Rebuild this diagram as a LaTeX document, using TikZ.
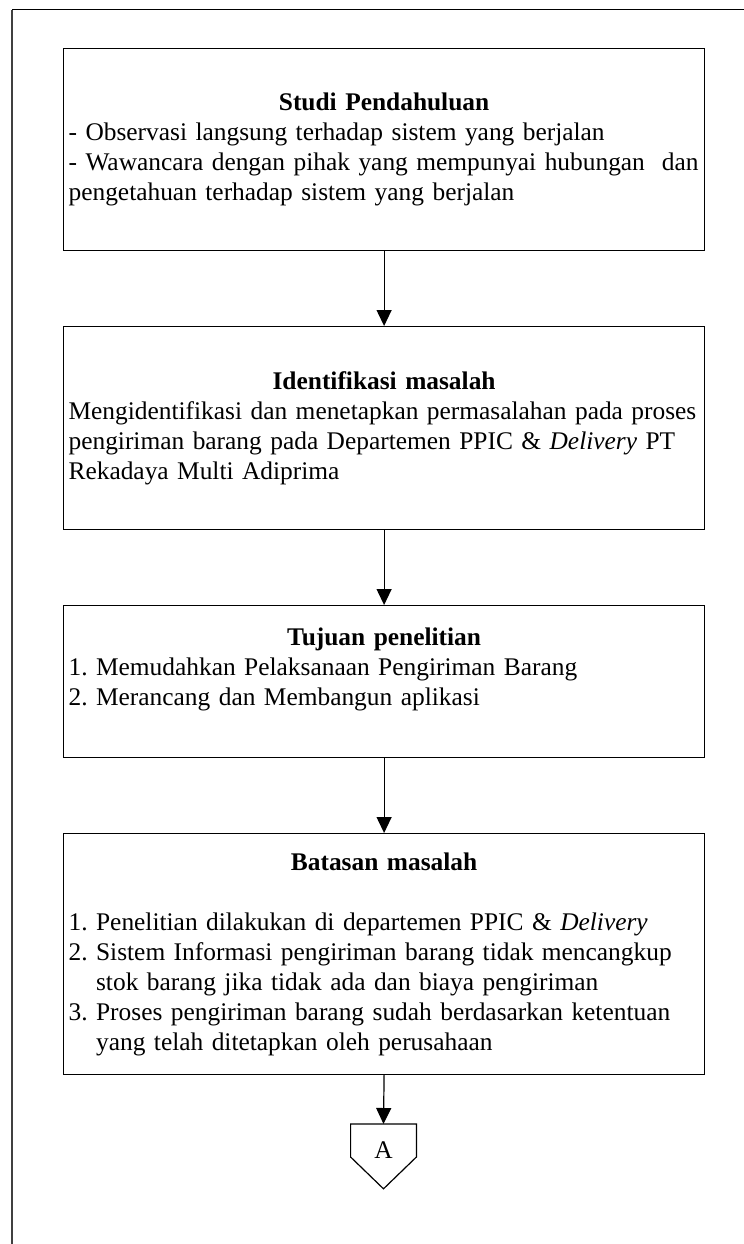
\documentclass[tikz,border=0pt]{standalone}
\usepackage{fontspec}
\setmainfont{Liberation Serif}
\usetikzlibrary{arrows.meta}

% numbered point with hanging indent (break lines with \newline)
\newcommand{\nomor}[1]{\par\setbox0=\hbox{#1\ }\hangindent=\wd0 \hangafter=1 \noindent\box0 }

\begin{document}
\begin{tikzpicture}[x=0.5pt,y=-0.5pt,
  kotak/.style={draw, line width=0.6pt, anchor=north west, text width=315.5pt,
    inner xsep=2.5pt, inner ysep=0pt, align=left,
    font=\fontsize{12.7}{15}\selectfont},
  panah/.style={-{Triangle[length=8pt,width=7.5pt]}, line width=0.6pt}]
  \useasboundingbox (0,0) rectangle (744,1244);
  % page frame
  \draw[line width=0.6pt] (12,9.5) -- (744,9.5);
  \draw[line width=1pt, black!75] (12,9.5) -- (12,1244);

  \node[kotak, minimum height=101.25pt] (studi) at (63,47.5) {%
    {\centering\textbf{Studi Pendahuluan}\par}
    - Observasi langsung terhadap sistem yang berjalan\\
    - Wawancara dengan pihak yang mempunyai hubungan\ \ dan\\
    pengetahuan terhadap sistem yang berjalan};

  \node[kotak, minimum height=101.5pt] (identifikasi) at (63,326) {%
    {\centering\textbf{Identifikasi masalah}\par}
    Mengidentifikasi dan menetapkan permasalahan pada proses\\
    pengiriman barang pada Departemen PPIC \& \textit{Delivery} PT\\
    Rekadaya Multi Adiprima};

  \node[kotak, minimum height=76pt] (tujuan) at (63,605) {%
    {\centering\textbf{Tujuan penelitian}\par}
    1.\ Memudahkan Pelaksanaan Pengiriman Barang\\
    2.\ Merancang dan Membangun aplikasi\\
    \mbox{}};

  \node[kotak, minimum height=120.5pt] (batasan) at (63,833) {%
    {\centering\textbf{Batasan masalah}\par}
    \mbox{}\par
    \nomor{1.}Penelitian dilakukan di departemen PPIC \& \textit{Delivery}
    \nomor{2.}Sistem Informasi pengiriman barang tidak mencangkup\newline
      stok barang jika tidak ada dan biaya pengiriman
    \nomor{3.}Proses pengiriman barang sudah berdasarkan ketentuan\newline
      yang telah ditetapkan oleh perusahaan\par};

  % off-page connector
  \node[minimum width=32.5pt, minimum height=32pt, inner sep=0pt, anchor=north,
    text depth=6pt, font=\fontsize{12.7}{15}\selectfont] (A) at (383.5,1124) {A};
  \draw[line width=0.6pt] (A.north west) -- (A.north east) -- ++(0,33)
    -- (A.south) -- ([yshift=-16.5pt]A.north west) -- cycle;

  \draw[panah] (studi.south) -- (identifikasi.north);
  \draw[panah] (identifikasi.south) -- (tujuan.north);
  \draw[panah] (tujuan.south) -- (batasan.north);
  \draw[panah] (batasan.south) -- (A.north);
\end{tikzpicture}
\end{document}
